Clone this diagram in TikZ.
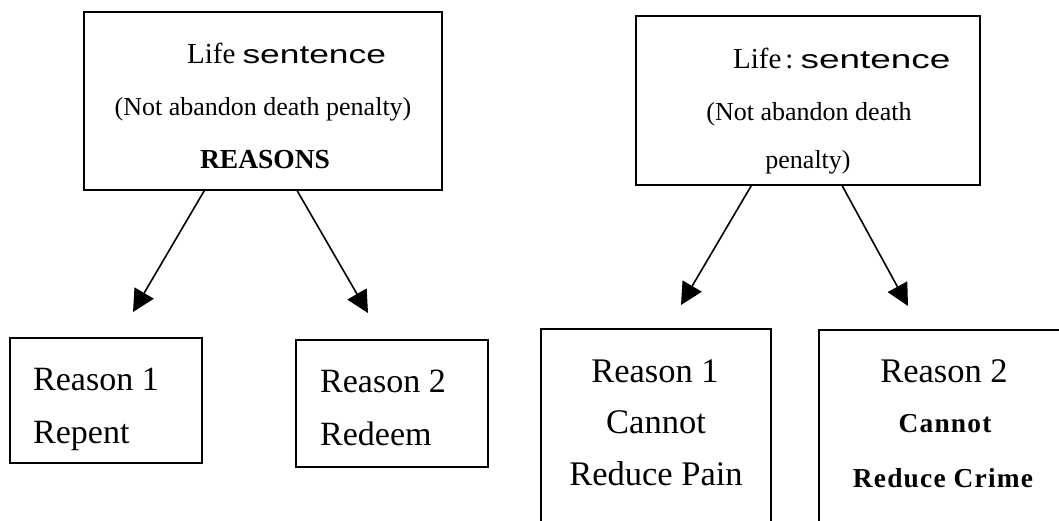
\documentclass[tikz,border=0pt]{standalone}
\usepackage{fontspec}
\setmainfont{Liberation Serif}
\newfontfamily\handfont{Liberation Sans}
\usetikzlibrary{arrows.meta,calc}
\begin{document}
\begin{tikzpicture}[x=1pt,y=-1pt,
  box/.style={draw,line width=1.6pt,rectangle,inner sep=0pt},
  txt/.style={anchor=base west,inner sep=0pt},
  ctxt/.style={anchor=base,inner sep=0pt},
  arr/.style={line width=1.6pt,-{Triangle[length=22pt,width=22pt]}},
  big/.style={font=\fontsize{34}{40}\selectfont},
  bigr/.style={font=\fontsize{34.5}{40}\selectfont},
  mid/.style={font=\fontsize{26}{30}\selectfont},
  boldmid/.style={font=\fontsize{27.4}{30}\selectfont\bfseries\addfontfeature{LetterSpace=4.4}}]
\useasboundingbox (0,0) rectangle (1059,520);
\fill[white] (0,0) rectangle (1059,520);
\clip (0,0) rectangle (1059,520);

% boxes
\node[box,minimum width=358pt,minimum height=178pt] (lt) at (263,101) {};
\node[box,minimum width=344pt,minimum height=169pt] (rt) at (808,100.5) {};
\node[box,minimum width=192pt,minimum height=125pt] (lb1) at (106,400.5) {};
\node[box,minimum width=192pt,minimum height=127pt] (lb2) at (392,403.5) {};
\node[box,minimum width=230pt,minimum height=231pt] (rb1) at (656,444.5) {};
\node[box,minimum width=250pt,minimum height=230pt] (rb2) at (944,445) {};

% arrows
\coordinate (e1) at (133,312);
\coordinate (e2) at (368,313);
\coordinate (e3) at (681,305);
\coordinate (e4) at (908,306);
\draw[arr] ($(lt.south west)+(121,0)$) -- (e1);
\draw[arr] ($(lt.south west)+(214,0)$) -- (e2);
\draw[arr] ($(rt.south west)+(116,0)$) -- (e3);
\draw[arr] ($(rt.south west)+(207,0)$) -- (e4);

% left top text
\node[txt,font=\fontsize{29}{30}\selectfont] (lt1) at (187,63) {Life\hspace{7pt}{\handfont\fontsize{26}{30}\selectfont\scalebox{1.36}[1]{sentence}}};
\node[ctxt,mid] (lt2) at (263,115) {(Not abandon death penalty)};
\node[ctxt,font=\fontsize{27.5}{30}\selectfont\bfseries] (lt3) at (265,168) {REASONS};

% right top text
\node[txt,font=\fontsize{29}{30}\selectfont] (rt1) at (733,68) {Life\hspace{4pt}:\hspace{7pt}{\handfont\fontsize{26}{30}\selectfont\scalebox{1.42}[1]{sentence}}};
\node[ctxt,mid] (rt2) at (809,120) {(Not abandon death};
\node[ctxt,mid] (rt3) at (808,168) {penalty)};

% left bottom text
\node[txt,big] (l1a) at (33,390) {Reason 1};
\node[txt,big] (l1b) at (33,443) {Repent};
\node[txt,big] (l2a) at (320,392) {Reason 2};
\node[txt,big] (l2b) at (320,445) {Redeem};

% right bottom text
\node[ctxt,bigr] (r1a) at (655,382) {Reason 1};
\node[ctxt,bigr] (r1b) at (656,433) {Cannot};
\node[ctxt,bigr] (r1c) at (656,485) {Reduce Pain};
\node[ctxt,bigr] (r2a) at (944,382) {Reason 2};
\node[ctxt,boldmid] (r2b) at (945,432) {Cannot};
\node[ctxt,boldmid] (r2c) at (943,487) {Reduce Crime};
\end{tikzpicture}
\end{document}
